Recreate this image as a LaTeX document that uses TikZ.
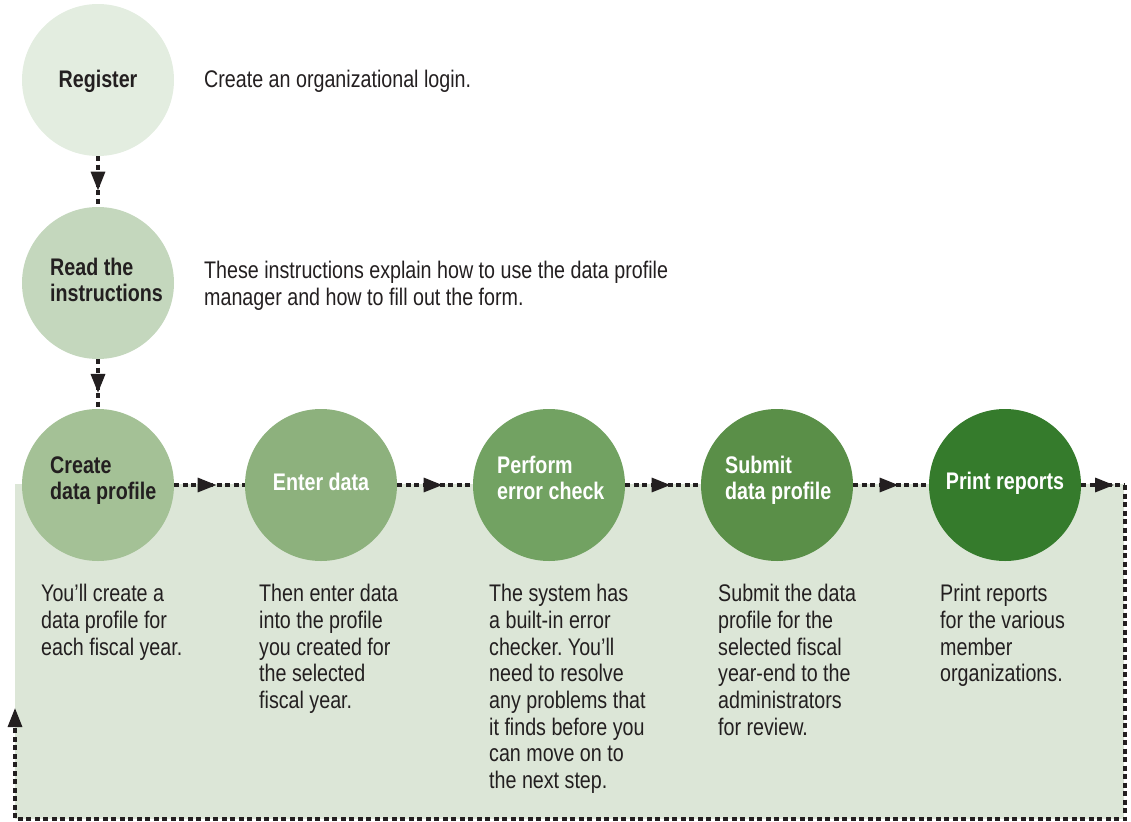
\documentclass[tikz,border=0pt]{standalone}
\usepackage{fontspec}
\setmainfont{Liberation Sans}[FakeStretch=0.82]
\usetikzlibrary{arrows.meta,decorations.markings}
\frenchspacing
\definecolor{txt}{HTML}{231F20}
\definecolor{bgfill}{HTML}{DCE6D7}
\definecolor{cA}{HTML}{E3EDE0}
\definecolor{cB}{HTML}{C4D7BD}
\definecolor{cC}{HTML}{A4C196}
\definecolor{cD}{HTML}{8DB17D}
\definecolor{cE}{HTML}{72A262}
\definecolor{cF}{HTML}{5A8F48}
\definecolor{cG}{HTML}{357B2C}
\begin{document}
\begin{tikzpicture}[x=1pt,y=-1pt,
  stepcircle/.style={circle, minimum size=152pt, inner sep=0pt, draw=none},
  lbl/.style={font=\fontsize{24}{26}\selectfont\bfseries, anchor=base west, align=left, inner sep=0pt},
  lblc/.style={font=\fontsize{24}{26}\selectfont\bfseries, anchor=base, inner sep=0pt},
  desc/.style={font=\fontsize{24}{26.7}\selectfont\frenchspacing, text=txt, anchor=base west, align=left, inner sep=0pt},
  flow/.style={line width=3.2pt, dash pattern=on 5pt off 3.5pt, draw=txt},
  midarrow/.style={postaction={decorate}, decoration={markings, mark=at position #1 with {\arrow{Triangle[length=19pt,width=14pt]}}}}
]
\useasboundingbox (0,0) rectangle (1131,821);
\fill[bgfill] (15,484) rectangle (1124,819);

% circles
\node[stepcircle, fill=cA] (register) at (98,80) {};
\node[stepcircle, fill=cB] (read) at (98,283) {};
\node[stepcircle, fill=cC] (create) at (98,485) {};
\node[stepcircle, fill=cD] (enter) at (321,485) {};
\node[stepcircle, fill=cE] (perform) at (549,485) {};
\node[stepcircle, fill=cF] (submit) at (777,485) {};
\node[stepcircle, fill=cG] (print) at (1005,485) {};

% labels (base = baseline of the last line)
\node[lblc, text=txt] (lregister) at (98,87.5) {Register};
\node[lbl, text=txt] (lread) at (50,301) {Read the\\instructions};
\node[lbl, text=txt] (lcreate) at (50,499) {Create\\data profile};
\node[lblc, text=white] (lenter) at (321,490) {Enter data};
\node[lbl, text=white] (lperform) at (497,499) {Perform\\error check};
\node[lbl, text=white] (lsubmit) at (725,499) {Submit\\data profile};
\node[lblc, text=white] (lprint) at (1005,489) {Print reports};

% descriptions (base = baseline of the last line)
\node[desc] (dregister) at (204,88) {Create an organizational login.};
\node[desc] (dread) at (204,305.2) {These instructions explain how to use the data profile\\manager and how to fill out the form.};
\node[desc] (dcreate) at (41,655.1) {You’ll create a\\data profile for\\each fiscal year.};
\node[desc] (denter) at (259,708.5) {Then enter data\\into the profile\\you created for\\the selected\\fiscal year.};
\node[desc] (dperform) at (489,788.6) {The system has\\a built-in error\\checker. You’ll\\need to resolve\\any problems that\\it finds before you\\can move on to\\the next step.};
\node[desc] (dsubmit) at (718,735.2) {Submit the data\\profile for the\\selected fiscal\\year-end to the\\administrators\\for review.};
\node[desc] (dprint) at (940,681.8) {Print reports\\for the various\\member\\organizations.};

% connectors
\draw[flow, midarrow=0.68] (register.south) -- (read.north);
\draw[flow, midarrow=0.68] (read.south) -- (create.north);
\draw[flow, midarrow=0.6] (create.east) -- (enter.west);
\draw[flow, midarrow=0.6] (enter.east) -- (perform.west);
\draw[flow, midarrow=0.6] (perform.east) -- (submit.west);
\draw[flow, midarrow=0.6] (submit.east) -- (print.west);

\coordinate (loopA) at (1125,485);
\coordinate (loopB) at (1125,819);
\coordinate (loopC) at (15,819);
\coordinate (loopD) at (15,708);
\draw[flow, midarrow=0.75] (print.east) -- (loopA);
\draw[flow, -{Triangle[length=19pt,width=14pt]}] (loopA) -- (loopB) -- (loopC) -- (loopD);
\end{tikzpicture}
\end{document}
